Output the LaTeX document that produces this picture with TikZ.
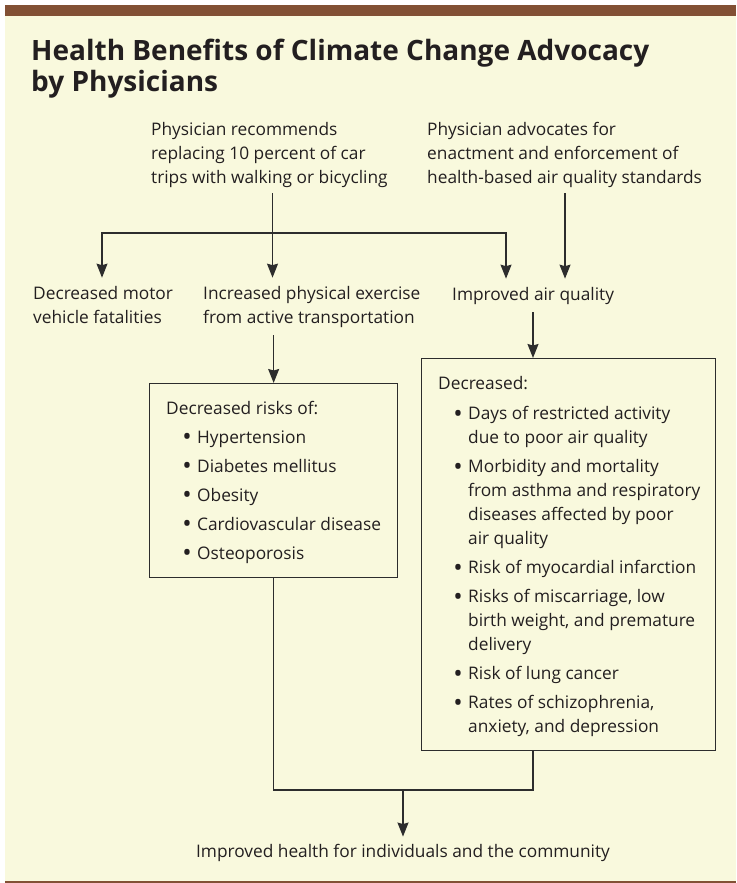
\documentclass[tikz,border=0pt]{standalone}
\usepackage{fontspec}
\usepackage{graphicx}
\setmainfont{Open Sans}
\usetikzlibrary{arrows.meta}
\definecolor{cream}{RGB}{249,249,221}
\definecolor{barbrown}{RGB}{130,80,52}
\definecolor{ink}{RGB}{35,31,32}
\definecolor{linegray}{RGB}{45,45,45}
\newcommand{\bul}{\llap{\raisebox{-2.6pt}{\scalebox{1.45}{\textbullet}}\hspace{5.5pt}}}
\begin{document}
\begin{tikzpicture}[x=1pt,y=-1pt,
  body/.style={font=\fontsize{17.3}{24}\selectfont, text=ink, align=left, inner xsep=0pt},
  toptext/.style={body, anchor=base west, inner ysep=6pt},
  midtext/.style={body, anchor=base west, inner ysep=8pt},
  boxtext/.style={body, anchor=base west, inner ysep=0pt},
  framebox/.style={draw=linegray, line width=1.3pt, anchor=north west, inner sep=0pt},
  conn/.style={draw=linegray, line width=1.3pt},
  arr/.style={conn, -{Stealth[length=14pt,width=11pt,inset=1.5pt]}},
  titletext/.style={font=\fontsize{28}{32}\selectfont\bfseries, text=ink, align=left, anchor=base west, inner sep=0pt}
]
\useasboundingbox (0,0) rectangle (736,883);
\fill[white] (0,0) rectangle (736,883);
\fill[cream] (5,16) rectangle (736,881);
\fill[barbrown] (5,5) rectangle (736,16);
\fill[barbrown] (5,880.5) rectangle (736,883);

% base anchors of multi-line nodes sit on the last line
\node[titletext] (title) at (31,92) {Health Benefits of Climate Change Advocacy\\by Physicians};

\node[toptext] (rec) at (151,183) {Physician recommends\\replacing 10 percent of car\\trips with walking or bicycling};
\node[toptext] (adv) at (427,183) {Physician advocates for\\enactment and enforcement of\\health-based air quality standards};

\node[midtext] (fat) at (33,323) {Decreased motor\\vehicle fatalities};
\node[midtext] (exer) at (203,323) {Increased physical exercise\\from active transportation};
\node[midtext] (air) at (452,300) {Improved air quality};

\node[framebox, minimum width=248pt, minimum height=194pt] (box1) at (149,383) {};
\node[boxtext] (b1head) at (166,414) {Decreased risks of:};
\node[boxtext] (b1list) at (197,559) {%
\bul Hypertension\\[5pt]
\bul Diabetes mellitus\\[5pt]
\bul Obesity\\[5pt]
\bul Cardiovascular disease\\[5pt]
\bul Osteoporosis};

\node[framebox, minimum width=294pt, minimum height=392pt] (box2) at (421,358) {};
\node[boxtext] (b2head) at (438,389.5) {Decreased:};
\node[boxtext] (b2list) at (468,732.5) {%
\bul Days of restricted activity\\
due to poor air quality\\[5pt]
\bul Morbidity and mortality\\
from asthma and respiratory\\
diseases affected by poor\\
air quality\\[5pt]
\bul Risk of myocardial infarction\\[5pt]
\bul Risks of miscarriage, low\\
birth weight, and premature\\
delivery\\[5pt]
\bul Risk of lung cancer\\[5pt]
\bul Rates of schizophrenia,\\
anxiety, and depression};

\node[body, anchor=base, inner ysep=7pt] (final) at (403,857) {Improved health for individuals and the community};

\coordinate (xA) at (102,233);
\coordinate (xB) at (272.5,233);
\coordinate (xC) at (506,233);
\coordinate (xD) at (565,233);
\coordinate (xE) at (533,790);
\coordinate (xF) at (403,790);

\draw[arr] (xB |- rec.south) -- (xB |- exer.north);
\draw[arr] (xB) -| (xA |- fat.north);
\draw[arr] (xB) -| (xC |- air.north);
\draw[arr] (xD |- adv.south) -- (xD |- air.north);
\draw[arr] (box1.north |- exer.south) -- (box1.north);
\draw[arr] (xE |- air.south) -- (xE |- box2.north);
\draw[conn] (box1.south) |- (xE) -- (xE |- box2.south);
\draw[arr] (xF) -- (final.north);
\end{tikzpicture}
\end{document}
